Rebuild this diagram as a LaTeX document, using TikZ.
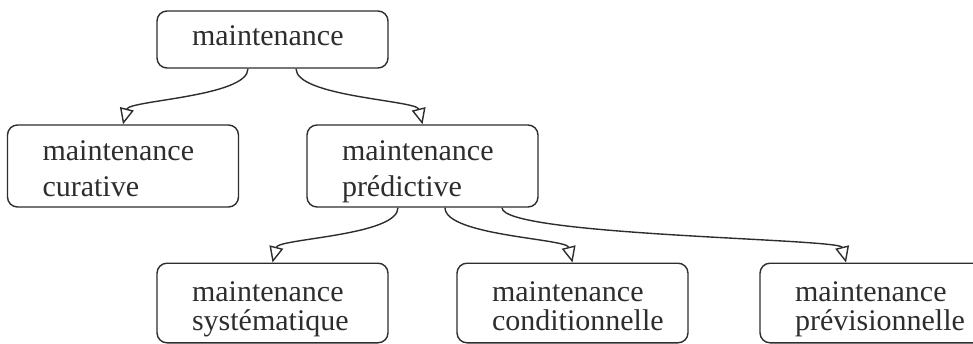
\documentclass[tikz,border=0pt]{standalone}
\usepackage{fontspec}
\setmainfont{Liberation Serif}
\usetikzlibrary{arrows.meta}
\definecolor{ink}{RGB}{45,45,45}

\begin{document}
\begin{tikzpicture}[x=0.5pt, y=-0.5pt, >={Triangle[open,length=8pt,width=7pt]},
    box/.style={draw=ink, rounded corners=5pt, line width=0.7pt, text=ink,
        text width=80.5pt, inner xsep=17.5pt, inner ysep=0pt, align=left,
        font=\fontsize{15pt}{18pt}\selectfont},
    upper/.style={box, execute at begin node={\rule{0pt}{17pt}},
        execute at end node={\rule[-11.5pt]{0pt}{11.5pt}}},
    middle/.style={box, execute at begin node={\rule{0pt}{17.5pt}},
        execute at end node={\rule[-5.5pt]{0pt}{5.5pt}}},
    lower/.style={box, font=\fontsize{15pt}{14.5pt}\selectfont,
        execute at begin node={\rule{0pt}{19.3pt}},
        execute at end node={\rule[-6pt]{0pt}{6pt}}},
    link/.style={->, draw=ink, line width=0.7pt}]
    \clip (0,0) rectangle (973,343);
    \useasboundingbox (0,0) rectangle (973,343);
    \node[upper] (root) at (272.5,39.5) {maintenance};
    \node[middle] (cur) at (123,166) {maintenance\\curative};
    \node[middle] (pred) at (422.5,166) {maintenance\\prédictive};
    \node[lower] (sys) at (272.5,303) {maintenance\\systématique};
    \node[lower] (cond) at (572.5,303) {maintenance\\conditionnelle};
    \node[lower] (prev) at (875.5,303) {maintenance\\prévisionnelle};
    \draw[link] ([xshift=-12.25pt]root.south) .. controls +(0,28) and +(6,-24) .. (cur.north);
    \draw[link] ([xshift=11.75pt]root.south) .. controls +(0,28) and +(-6,-24) .. (pred.north);
    \draw[link] ([xshift=-12.25pt]pred.south) .. controls +(0,28) and +(6,-24) .. (sys.north);
    \draw[link] ([xshift=11.25pt]pred.south) .. controls +(0,28) and +(-6,-24) .. (cond.north);
    \draw[link] ([xshift=39.75pt]pred.south) .. controls +(0,28) and +(-6,-24) .. ([xshift=-14.75pt]prev.north);
\end{tikzpicture}
\end{document}
